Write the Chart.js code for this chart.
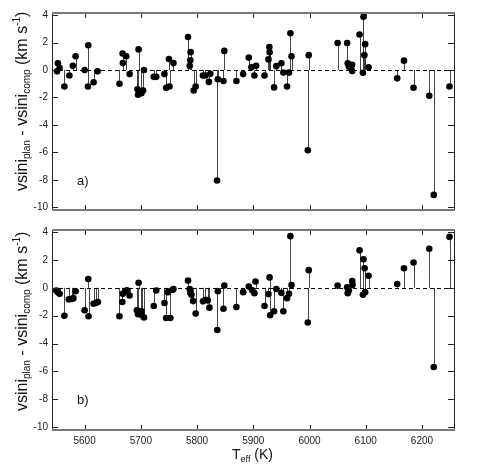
<!DOCTYPE html>
<html lang="en">
  <head>
    <meta charset="UTF-8" />
    <title>vsini difference vs Teff</title>
    <script src="https://cdn.jsdelivr.net/npm/chart.js@4.4.1/dist/chart.umd.min.js"></script>
    <style>
      body { margin: 0; background: #fff; }
      #wrap { position: relative; width: 485px; height: 469px; }
      canvas { position: absolute; left: 0; }
      #panelA { top: 0; }
      #panelB { top: 220px; }
    </style>
  </head>
  <body>
    <div id="wrap">
      <canvas id="panelA" width="485" height="220"></canvas>
      <canvas id="panelB" width="485" height="249"></canvas>
    </div>

    <script>
      // ---- data ----
      const teffA = [
        5551, 5552.5, 5555.5, 5564, 5573, 5579, 5584, 5600, 5606.5, 5606, 5616, 5623,
        5662, 5667.6, 5668, 5674, 5680, 5694, 5695, 5696, 5701, 5704, 5705.6, 5723,
        5727.5, 5742, 5745, 5750, 5751, 5758, 5784, 5787, 5788, 5788.5, 5794, 5797.5,
        5810.5, 5815, 5821, 5823.6, 5835.5, 5837, 5847, 5848.5, 5870, 5882, 5892,
        5896.6, 5902, 5905, 5920, 5927, 5929, 5928.6, 5937, 5941, 5950, 5953.5, 5960,
        5963.6, 5966, 5968, 5997, 5998.6, 6050, 6067, 6068, 6070, 6075.8, 6076, 6089,
        6095, 6096, 6097.6, 6099, 6105, 6156, 6168, 6185, 6213, 6221, 6249,
      ];
      const dvA = [
        -0.1, 0.49, 0.14, -1.2, -0.4, 0.3, 1.0, 0.0, 1.8, -1.2, -0.9, -0.1,
        -1.0, 1.2, 0.5, 1.0, -0.3, -1.4, -1.8, 1.5, -1.7, -1.5, 0.0, -0.5,
        -0.5, -0.3, -1.3, 0.8, -1.2, 0.5, 2.4, 0.3, 0.7, 1.3, -1.5, -1.2,
        -0.4, -0.4, -0.87, -0.28, -8.05, -0.68, -0.8, 1.39, -0.8, -0.3, 0.9,
        0.19, -0.4, 0.3, -0.4, 0.77, 1.29, 1.67, -1.27, 0.28, 0.49, -0.19, -1.2,
        -0.19, 2.68, 1.0, -5.85, 1.08, 1.97, 1.97, 0.49, 0.26, 0.37, -0.07, 2.58,
        -0.21, 3.87, 1.08, 1.88, 0.19, -0.61, 0.68, -1.29, -1.88, -9.1, -1.2,
      ];

      const teffB = [
        5549.6, 5552.5, 5555.5, 5564, 5572, 5578, 5580, 5584, 5600, 5606.5, 5607, 5616,
        5621, 5623.7, 5662, 5667, 5668, 5673, 5675, 5680, 5693, 5695, 5696, 5701,
        5702, 5705.6, 5723, 5727.5, 5742, 5745, 5748, 5752.5, 5756, 5758, 5784, 5787,
        5788, 5790, 5793, 5797.5, 5810.5, 5815, 5819, 5822, 5836, 5837, 5847, 5848.5,
        5870, 5882, 5892, 5898, 5902, 5904, 5920, 5927, 5929, 5930, 5937, 5941,
        5950, 5953.5, 5960, 5963.6, 5966, 5968, 5997, 5998.6, 6050, 6067, 6068, 6070,
        6076, 6076.5, 6089, 6095, 6096, 6098, 6099, 6105, 6156, 6168, 6185, 6213,
        6221, 6249,
      ];
      const dvB = [
        -0.19, -0.31, -0.43, -2.0, -0.83, -0.79, -0.74, -0.24, -1.61, 0.63, -2.04, -1.14,
        -1.07, -1.02, -2.04, -1.02, -0.43, -0.26, -0.17, -0.55, -1.61, -1.9, 0.37, -1.66,
        -1.97, -2.13, -1.3, -0.19, -1.09, -2.16, -0.31, -2.16, -0.15, -0.08, 0.52, -0.08,
        -0.36, -0.5, -0.95, -1.85, -0.97, -0.86, -0.9, -1.42, -3.03, -0.24, -1.5, 0.16,
        -1.38, -0.31, 0.09, -0.17, -0.38, 0.45, -1.3, -0.45, 0.75, -1.97, -1.68, -0.08,
        -0.36, -1.68, -0.74, -0.43, 3.71, 0.2, -2.49, 1.27, 0.16, 0.04, -0.38, -0.19,
        0.49, 0.21, 2.69, -0.5, 2.05, 1.41, -0.31, 0.87, 0.28, 1.41, 1.82, 2.81,
        -5.68, 3.66,
      ];

      const xTicks = [5600, 5700, 5800, 5900, 6000, 6100, 6200];
      const yTicks = [-10, -8, -6, -4, -2, 0, 2, 4];

      const FONT = "'Liberation Sans', Arial, sans-serif";

      // draw a run of text pieces (normal / sub / sup) along a baseline
      function richText(ctx, parts, x, y) {
        let cx = x;
        parts.forEach((p) => {
          ctx.font = p.size + "px " + FONT;
          ctx.fillText(p.t, cx, y + (p.dy || 0));
          cx += ctx.measureText(p.t).width;
        });
      }

      const yTitle = [
        { t: "vsini", size: 16 },
        { t: "plan", size: 10, dy: 3 },
        { t: " - vsini", size: 16 },
        { t: "comp", size: 10, dy: 3 },
        { t: " (km s", size: 16 },
        { t: "-1", size: 10, dy: -7 },
        { t: ")", size: 16 },
      ];

      // stems, zero line, frame, inward ticks and labels
      const decorPlugin = {
        id: "decor",
        beforeDatasetsDraw(chart) {
          const { ctx, chartArea: a, scales } = chart;
          const y0 = scales.y.getPixelForValue(0);
          ctx.save();
          ctx.strokeStyle = "#444";
          ctx.lineWidth = 1;
          chart.getDatasetMeta(0).data.forEach((pt) => {
            ctx.beginPath();
            ctx.moveTo(Math.round(pt.x) + 0.5, y0);
            ctx.lineTo(Math.round(pt.x) + 0.5, pt.y);
            ctx.stroke();
          });
          ctx.strokeStyle = "#000";
          ctx.setLineDash([4, 3]);
          ctx.beginPath();
          ctx.moveTo(a.left, Math.round(y0) + 0.5);
          ctx.lineTo(a.right, Math.round(y0) + 0.5);
          ctx.stroke();
          ctx.restore();
        },
        afterDraw(chart, args, opts) {
          const { ctx, chartArea: a, scales } = chart;
          ctx.save();
          // ticks
          ctx.strokeStyle = "#222";
          ctx.lineWidth = 1;
          xTicks.forEach((v) => {
            const x = Math.round(scales.x.getPixelForValue(v)) + 0.5;
            ctx.beginPath();
            ctx.moveTo(x, a.bottom);
            ctx.lineTo(x, a.bottom - 5);
            ctx.moveTo(x, a.top);
            ctx.lineTo(x, a.top + 5);
            ctx.stroke();
          });
          yTicks.forEach((v) => {
            const y = Math.round(scales.y.getPixelForValue(v)) + 0.5;
            ctx.beginPath();
            ctx.moveTo(a.left, y);
            ctx.lineTo(a.left + 6, y);
            ctx.moveTo(a.right, y);
            ctx.lineTo(a.right - 6, y);
            ctx.stroke();
          });
          // frame
          ctx.strokeStyle = "#222";
          ctx.beginPath();
          ctx.moveTo(a.left + 0.5, a.top);
          ctx.lineTo(a.left + 0.5, a.bottom);
          ctx.moveTo(a.right + 0.5, a.top);
          ctx.lineTo(a.right + 0.5, a.bottom);
          ctx.stroke();
          ctx.strokeStyle = "#7a7a7a";
          ctx.lineWidth = 2;
          ctx.beginPath();
          ctx.moveTo(a.left, a.top);
          ctx.lineTo(a.right + 1, a.top);
          ctx.moveTo(a.left, a.bottom);
          ctx.lineTo(a.right + 1, a.bottom);
          ctx.stroke();

          // panel letter
          ctx.fillStyle = "#111";
          ctx.textBaseline = "alphabetic";
          ctx.textAlign = "left";
          ctx.font = "13px " + FONT;
          ctx.fillText(opts.letter, 77, scales.y.getPixelForValue(-8) + 5);

          // y title, starting near the bottom of the panel
          ctx.save();
          ctx.translate(27, a.bottom - 19);
          ctx.rotate(-Math.PI / 2);
          richText(ctx, yTitle, 0, 0);
          ctx.restore();

          // x title on lower panel
          if (opts.xTitle) {
            richText(
              ctx,
              [
                { t: "T", size: 14 },
                { t: "eff", size: 9, dy: 3 },
                { t: " (K)", size: 14 },
              ],
              232,
              a.bottom + 29
            );
          }
          ctx.restore();
        },
      };

      function makePanel(id, xs, ys, letter, lower) {
        const pts = xs.map((x, i) => ({ x: x, y: ys[i] }));
        return new Chart(document.getElementById(id), {
          type: "scatter",
          data: {
            datasets: [
              {
                data: pts,
                backgroundColor: "#000",
                borderColor: "#000",
                pointRadius: 3.3,
                pointBorderWidth: 0,
              },
            ],
          },
          plugins: [decorPlugin],
          options: {
            responsive: false,
            animation: false,
            events: [],
            layout: { padding: { top: lower ? 7 : 13, right: 31, left: 0, bottom: 0 } },
            scales: {
              x: {
                type: "linear",
                min: 5542,
                max: 6257,
                grid: { display: false, drawTicks: false },
                border: { display: false },
                afterBuildTicks: (s) => { s.ticks = xTicks.map((v) => ({ value: v })); },
                afterFit: (s) => { s.height = lower ? 39 : 4; },
                ticks: {
                  display: lower,
                  padding: 5,
                  color: "#222",
                  font: { family: FONT, size: 10 },
                  callback: (v) => String(v),
                },
              },
              y: {
                min: -10.2,
                max: 4.15,
                grid: { display: false, drawTicks: false },
                border: { display: false },
                afterBuildTicks: (s) => { s.ticks = yTicks.map((v) => ({ value: v })); },
                afterFit: (s) => { s.width = 52; },
                ticks: {
                  padding: 4,
                  color: "#222",
                  font: { family: FONT, size: 10 },
                  callback: (v) => String(v),
                },
              },
            },
            plugins: {
              legend: { display: false },
              tooltip: { enabled: false },
              decor: { letter: letter, xTitle: lower },
            },
          },
        });
      }

      makePanel("panelA", teffA, dvA, "a)", false);
      makePanel("panelB", teffB, dvB, "b)", true);
    </script>
  </body>
</html>
